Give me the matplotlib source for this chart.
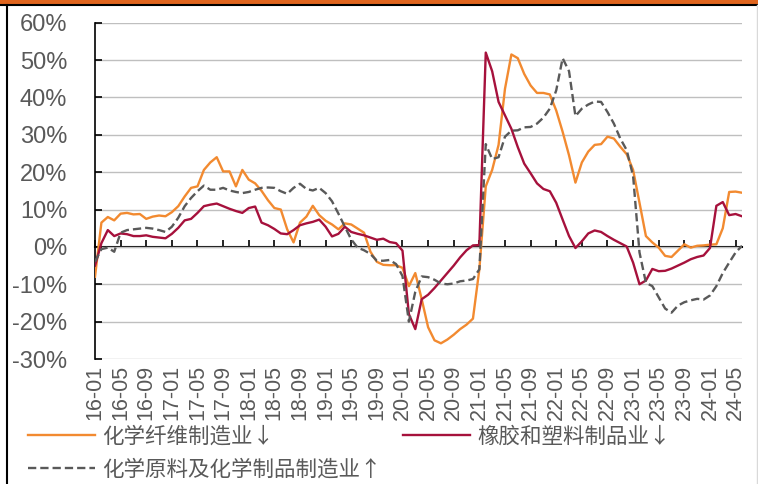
import matplotlib
matplotlib.use('Agg')
import matplotlib.pyplot as plt
import numpy as np
from matplotlib.patches import Rectangle
from matplotlib.lines import Line2D

# 月份 16-01 ... 24-06
months = [f'{y:02d}-{m:02d}' for y in range(16, 25) for m in range(1, 13)][:102]

# 化学纤维制造业
fiber = [-8.0, 6.5, 8.0, 7.1, 8.9, 9.1, 8.7, 8.8, 7.5, 8.1, 8.4, 8.2,
         9.3, 10.9, 13.5, 15.8, 16.2, 20.6, 22.6, 24.0, 20.2, 20.2, 16.2, 20.6,
         18.0, 17.0, 15.0, 12.5, 10.4, 10.0, 4.7, 1.2, 6.5, 8.1, 11.0, 8.5,
         7.0, 6.0, 4.7, 6.3, 6.0, 4.9, 3.8, -1.3, -4.0, -4.8, -4.9, -4.9,
         -5.6, -10.5, -7.0, -14.0, -21.5, -25.0, -25.8, -24.8, -23.5, -22.0, -20.8, -19.2,
         -6.0, 16.2, 20.6, 27.3, 42.3, 51.5, 50.5, 46.3, 43.2, 41.2, 41.2, 40.8,
         36.5, 30.8, 24.5, 17.2, 22.6, 25.5, 27.3, 27.5, 29.5, 29.0, 26.8, 24.8,
         20.6, 11.8, 2.9, 1.2, -0.2, -2.4, -2.7, -1.0, 0.7, -0.2, 0.3, 0.4,
         0.6, 0.7, 5.0, 14.7, 14.8, 14.5]

# 橡胶和塑料制品业
rubber = [-5.0, 1.0, 4.5, 2.9, 3.6, 3.4, 2.9, 2.9, 3.1, 2.7, 2.5, 2.3,
          3.5, 5.1, 7.1, 7.5, 9.1, 10.9, 11.3, 11.6, 10.9, 10.2, 9.6, 9.1,
          10.4, 10.8, 6.5, 5.8, 4.8, 3.6, 3.4, 4.5, 5.8, 6.3, 6.7, 7.3,
          5.4, 2.8, 3.5, 5.4, 4.0, 3.5, 3.1, 2.5, 1.9, 2.2, 1.3, 1.0,
          -1.0, -18.0, -22.0, -14.0, -12.8, -11.0, -9.0, -7.0, -5.0, -2.8, -0.9, 0.4,
          0.5, 52.0, 47.0, 38.8, 35.2, 31.6, 26.7, 22.3, 19.7, 17.0, 15.5, 14.9,
          11.8, 7.3, 2.9, -0.3, 1.5, 3.6, 4.4, 4.0, 2.9, 1.9, 1.0, 0.1,
          -4.2, -10.0, -9.0, -5.9, -6.5, -6.4, -5.8, -5.0, -4.2, -3.3, -2.7, -2.3,
          -0.3, 11.0, 12.0, 8.5, 8.8, 8.2]

# 化学原料及化学制品制造业
chem = [-4.0, -0.6, -0.2, -1.3, 3.8, 4.5, 4.7, 4.9, 5.1, 4.9, 4.5, 4.0,
        5.4, 7.8, 10.9, 13.1, 14.9, 16.4, 15.3, 15.3, 15.8, 15.1, 14.7, 14.4,
        14.7, 15.3, 15.8, 15.9, 15.8, 14.9, 14.2, 15.8, 16.9, 15.5, 15.1, 15.8,
        14.4, 12.2, 8.9, 5.4, 2.0, -0.2, -0.9, -1.9, -3.7, -3.7, -3.5, -4.6,
        -7.8, -20.0, -12.0, -7.9, -8.1, -8.8, -9.8, -10.0, -9.8, -9.2, -9.0, -8.6,
        -6.0, 27.5, 23.5, 24.0, 29.5, 31.1, 31.2, 32.0, 32.1, 33.0, 34.6, 37.0,
        41.9, 50.5, 47.0, 35.0, 37.0, 38.1, 38.9, 38.8, 36.1, 33.0, 29.0, 25.9,
        19.0, -1.5, -9.6, -10.5, -13.5, -16.5, -17.6, -15.7, -14.8, -14.3, -13.9, -14.1,
        -13.0, -10.5, -7.0, -4.2, -1.5, 0.3]

labels = ['化学纤维制造业↓', '橡胶和塑料制品业↓', '化学原料及化学制品制造业↑']
ORANGE = '#F28A30'
RED = '#A6113C'
GRAY = '#595959'
TXT = '#595959'

plt.rcParams['font.family'] = ['Liberation Sans', 'DejaVu Sans']

W, H = 758, 484
fig = plt.figure(figsize=(W / 100, H / 100), dpi=100)
ax = fig.add_axes([95 / W, 1 - 359 / H, 647 / W, (359 - 22.7) / H])

x = np.arange(len(months))
l1, = ax.plot(x, fiber, color=ORANGE, lw=1.7, zorder=3)
l2, = ax.plot(x, rubber, color=RED, lw=1.7, zorder=4)
l3, = ax.plot(x, chem, color=GRAY, lw=1.7, ls=(0, (3.5, 1.7)), zorder=5)

ax.set_xlim(0, len(months) - 1)
ax.set_ylim(-30, 60)
ax.set_yticks(range(-30, 61, 10))
ax.set_yticklabels([f'{v}%' for v in range(-30, 61, 10)])
ax.yaxis.grid(True, color='#BFBFBF', lw=1.0)
ax.set_axisbelow(True)
for s in ['top', 'right', 'bottom']:
    ax.spines[s].set_visible(False)
ax.spines['left'].set_linewidth(1.2)
ax.spines['left'].set_color('black')
ax.tick_params(axis='y', direction='in', length=5, width=1.2, color='black',
               labelcolor=TXT, labelsize=17, pad=20)

ax.set_xticks(x[::4])
ax.set_xticklabels(months[::4], rotation=90, fontsize=15.5, color=TXT)
ax.tick_params(axis='x', length=0, pad=4)

# 0轴上的刻度线
sec = ax.secondary_xaxis(30 / 90)
sec.set_xticks(x[::4])
sec.tick_params(direction='in', length=5, width=1.2, color='black',
                labelbottom=False, labeltop=False)
for s in sec.spines.values():
    s.set_linewidth(1.5)
    s.set_color('black')

fig.legend([l1, l3, l2], [labels[0], labels[2], labels[1]], ncol=2,
           loc='upper left', bbox_to_anchor=(28 / W, 1 - 426 / H),
           frameon=False, prop={'family': ['Noto Sans CJK SC', 'DejaVu Sans'], 'size': 15.5},
           handlelength=3.1, handletextpad=0.35, columnspacing=1.0,
           labelspacing=0.48, borderpad=0, borderaxespad=0, labelcolor=TXT)

# 顶部色条和边框
fig.add_artist(Rectangle((0, 1 - 4 / H), 1, 4 / H, transform=fig.transFigure,
                         color='#E0651E', lw=0))
fig.add_artist(Line2D([0, 1], [1 - 5 / H, 1 - 5 / H], transform=fig.transFigure,
                      color='black', lw=1.5))
fig.add_artist(Line2D([7 / W, 7 / W], [0, 1 - 5 / H], transform=fig.transFigure,
                      color='black', lw=1.5))
fig.add_artist(Line2D([757 / W, 757 / W], [0, 1 - 5 / H], transform=fig.transFigure,
                      color='#D9D9D9', lw=1))

fig.savefig('out.png', dpi=100)
